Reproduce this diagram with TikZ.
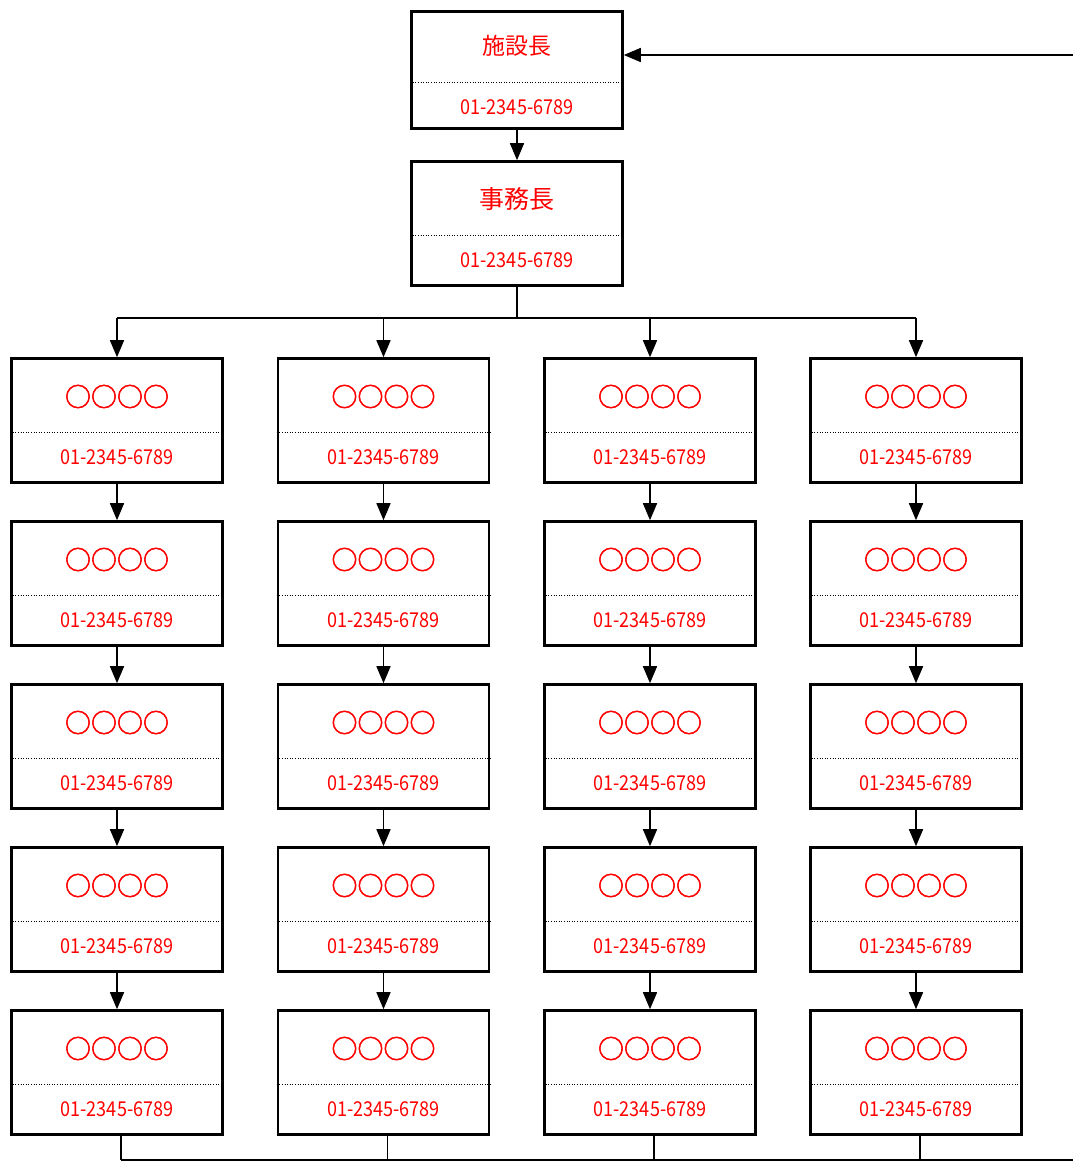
\documentclass[tikz,border=0pt]{standalone}
\usepackage{fontspec}
\setmainfont{Noto Sans CJK JP}
\newfontfamily\telfont{Noto Sans CJK JP}[FakeStretch=0.88]
\newfontfamily\markfont{Noto Sans CJK JP}[FakeBold=2]
\usetikzlibrary{arrows.meta}

\tikzset{
  postbox/.style={draw, line width=2.6pt, minimum width=211pt, minimum height=124pt, inner sep=0pt},
  link/.style={line width=1.6pt, -{Triangle[length=17pt,width=14pt]}},
  rule/.style={line width=1.6pt},
  sep/.style={dotted, line width=0.6pt},
  title/.style={text=red, font=\fontsize{23}{23}\selectfont},
  marks/.style={text=red, font=\markfont\fontsize{26}{26}\selectfont},
  tel/.style={text=red, font=\telfont\fontsize{20.5}{20.5}\selectfont},
}

% box with name, dotted divider and phone number
\newcommand{\postunit}[5][postbox]{%
  \node[#1] (#2) at (#3) {};
  \draw[sep] ([yshift=-12pt]#2.west) -- ([yshift=-12pt]#2.east);
  \node[#4] at ([yshift=24pt]#2.center) {#5};
  \node[tel] at ([yshift=-37pt]#2.center) {01-2345-6789};
}

\begin{document}
\begin{tikzpicture}[x=1pt,y=-1pt]
\useasboundingbox (0,0) rectangle (1073,1162);

% top of the chart
\postunit[postbox,minimum height=117pt]{chief}{517,70}{title}{施設長}
\postunit{office}{517,223.5}{title,font=\fontsize{25}{25}\selectfont}{事務長}

\coordinate (src) at (1073,55);
\draw[link] (src) -- (src -| chief.east);
\draw[link] (chief.south) -- (office.north);

% four columns of five
\foreach \c/\x in {1/117,2/383.5,3/650,4/916}{
  \foreach \r in {1,...,5}{
    \postunit{p-\c-\r}{\x,257.5+163*\r}{marks}{○○○○}
  }
  \foreach \r [evaluate=\r as \s using int(\r+1)] in {1,...,4}{
    \draw[link] (p-\c-\r.south) -- (p-\c-\s.north);
  }
}

% bus from the office down to the columns
\coordinate (bus) at (517,318);
\draw[rule] (office.south) -- (bus);
\draw[rule] (p-1-1.north |- bus) -- (p-4-1.north |- bus);
\foreach \c in {1,...,4}{
  \draw[link] (p-\c-1.north |- bus) -- (p-\c-1.north);
}

% bus under the last row
\coordinate (tail) at (1073,1160);
\draw[rule] ([xshift=4pt]p-1-5.south |- tail) -- (tail);
\foreach \c in {1,...,4}{
  \draw[rule] ([xshift=4pt]p-\c-5.south) -- ([xshift=4pt]p-\c-5.south |- tail);
}
\end{tikzpicture}
\end{document}
